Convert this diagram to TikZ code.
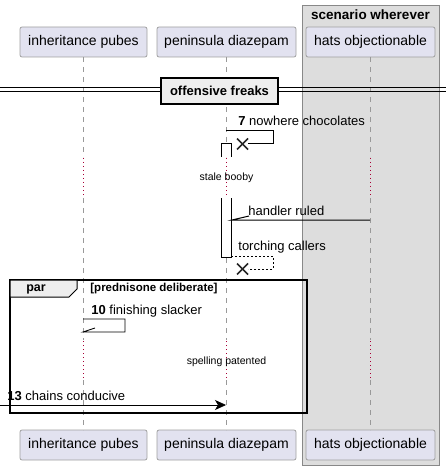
\documentclass[tikz,border=0pt]{standalone}
\usepackage{fontspec}
\setmainfont{Liberation Sans}
\usetikzlibrary{arrows.meta}

\definecolor{partfill}{HTML}{E2E2F0}
\definecolor{partline}{HTML}{A0A0A0}
\definecolor{boxfill}{HTML}{DDDDDD}
\definecolor{boxline}{HTML}{888888}
\definecolor{tabfill}{HTML}{EEEEEE}
\definecolor{delayred}{HTML}{A80036}

\tikzset{
  actor/.style={draw=partline, fill=partfill, rounded corners=2pt, minimum height=30pt, inner sep=0pt, font=\fontsize{14}{16}\selectfont},
  lifeline/.style={draw=gray!80, dash pattern=on 5pt off 5pt},
  delayline/.style={draw=delayred, line width=0.9pt, dash pattern=on 0.9pt off 3.1pt},
  msgtext/.style={anchor=west, inner sep=0pt, font=\fontsize{13}{15}\selectfont},
  smalltext/.style={inner sep=0pt, font=\fontsize{10.5}{12}\selectfont},
  killmark/.style={line width=1.6pt, draw=black!85}
}

\begin{document}
\begin{tikzpicture}[x=1pt, y=-1pt, line width=0.8pt]
  \useasboundingbox (0,0) rectangle (446,470);

  % -- Box: scenario wherever --
  \draw[fill=boxfill, draw=boxline] (302,5) rectangle (439,465);
  \node[inner sep=0pt, font=\fontsize{13.5}{15}\selectfont\bfseries] (boxtitle) at (370.5,15) {scenario wherever};

  % -- Participants --
  \node[actor, minimum width=127pt] (pubestop) at (83.5,42) {inheritance pubes};
  \node[actor, minimum width=139pt] (diazetop) at (226.5,42) {peninsula diazepam};
  \node[actor, minimum width=129pt] (hatstop) at (370.5,42) {hats objectionable};
  \node[actor, minimum width=127pt] (pubesbot) at (83.5,445) {inheritance pubes};
  \node[actor, minimum width=139pt] (diazebot) at (226.5,445) {peninsula diazepam};
  \node[actor, minimum width=129pt] (hatsbot) at (370.5,445) {hats objectionable};

  % -- Lifelines (dashed, broken by delays) --
  \foreach \who/\x in {pubes/83, diaze/226, hats/370} {
    \draw[lifeline] (\x,57) -- (\x,157);
    \draw[delayline] (\x,158) -- (\x,198);
    \draw[lifeline] (\x,198) -- (\x,340);
    \draw[delayline] (\x,341) -- (\x,380);
    \draw[lifeline] (\x,380) -- (\x,430);
  }

  % -- Divider --
  \draw[line width=1pt] (0,88) -- (446,88);
  \draw[line width=1pt] (0,92) -- (446,92);
  \node[draw, line width=1.6pt, fill=tabfill, minimum width=117pt, minimum height=26pt, inner sep=0pt,
        font=\fontsize{13}{15}\selectfont\bfseries] (divider) at (219.5,91) {offensive freaks};

  % -- Activation on peninsula diazepam --
  \fill[white] (221,143) rectangle (231,157);
  \draw (221,157) -- (221,143) -- (231,143) -- (231,157);
  \fill[white] (221,198) rectangle (231,257);
  \draw (221,198) -- (221,257) -- (231,257) -- (231,198);

  % -- 7 nowhere chocolates (self, destroyed) --
  \coordinate (sevenfrom) at (226,130);
  \coordinate (sevenkill) at (242.5,144);
  \draw (sevenfrom) -- (273,130) -- (273,143) -- (248,143);
  \draw[killmark] ([shift={(-5.5,-5.5)}]sevenkill) -- ([shift={(5.5,5.5)}]sevenkill);
  \draw[killmark] ([shift={(-5.5,5.5)}]sevenkill) -- ([shift={(5.5,-5.5)}]sevenkill);
  \node[msgtext] (sevenlbl) at (238,121) {\textbf{7} nowhere chocolates};

  % -- Delay 1 --
  \node[smalltext] (stale) at (226.5,178) {stale booby};

  % -- handler ruled --
  \coordinate (handlerfrom) at (370,220);
  \coordinate (handlerto) at (232,220);
  \draw[line width=1pt] (handlerfrom) -- (handlerto) -- (249,216);
  \node[msgtext] (handlerlbl) at (248,211) {handler ruled};

  % -- torching callers (dashed self return, destroyed) --
  \coordinate (torchfrom) at (231,256);
  \coordinate (torchkill) at (242.5,269);
  \draw[dash pattern=on 2pt off 2pt] (torchfrom) -- (273,256) -- (273,269) -- (248,269);
  \draw[killmark] ([shift={(-5.5,-5.5)}]torchkill) -- ([shift={(5.5,5.5)}]torchkill);
  \draw[killmark] ([shift={(-5.5,5.5)}]torchkill) -- ([shift={(5.5,-5.5)}]torchkill);
  \node[msgtext] (torchlbl) at (238,247) {torching callers};

  % -- par group --
  \draw[line width=1.6pt] (10,280) rectangle (307,413);
  \draw[fill=tabfill, line width=1pt] (10,280) -- (77,280) -- (77,289) -- (69,297) -- (10,297) -- cycle;
  \node[inner sep=0pt, font=\fontsize{12.5}{14}\selectfont\bfseries] (parlbl) at (36,289) {par};
  \node[anchor=west, inner sep=0pt, font=\fontsize{11.5}{13}\selectfont\bfseries] (guard) at (90,289) {[prednisone deliberate]};

  % -- 10 finishing slacker (self) --
  \coordinate (tenfrom) at (83,319);
  \coordinate (tento) at (83,332);
  \draw (tenfrom) -- (125,319) -- (125,332) -- (tento) -- (95,328);
  \node[msgtext] (tenlbl) at (91,311) {\textbf{10} finishing slacker};

  % -- Delay 2 --
  \node[smalltext] (spelling) at (226.5,362) {spelling patented};

  % -- 13 chains conducive (found message) --
  \coordinate (chainsfrom) at (0,405);
  \coordinate (chainsto) at (226,405);
  \draw[-{Stealth[length=11pt, width=10pt, inset=3pt]}] (chainsfrom) -- (chainsto);
  \node[msgtext] (chainslbl) at (7,396) {\textbf{13} chains conducive};

\end{tikzpicture}
\end{document}
